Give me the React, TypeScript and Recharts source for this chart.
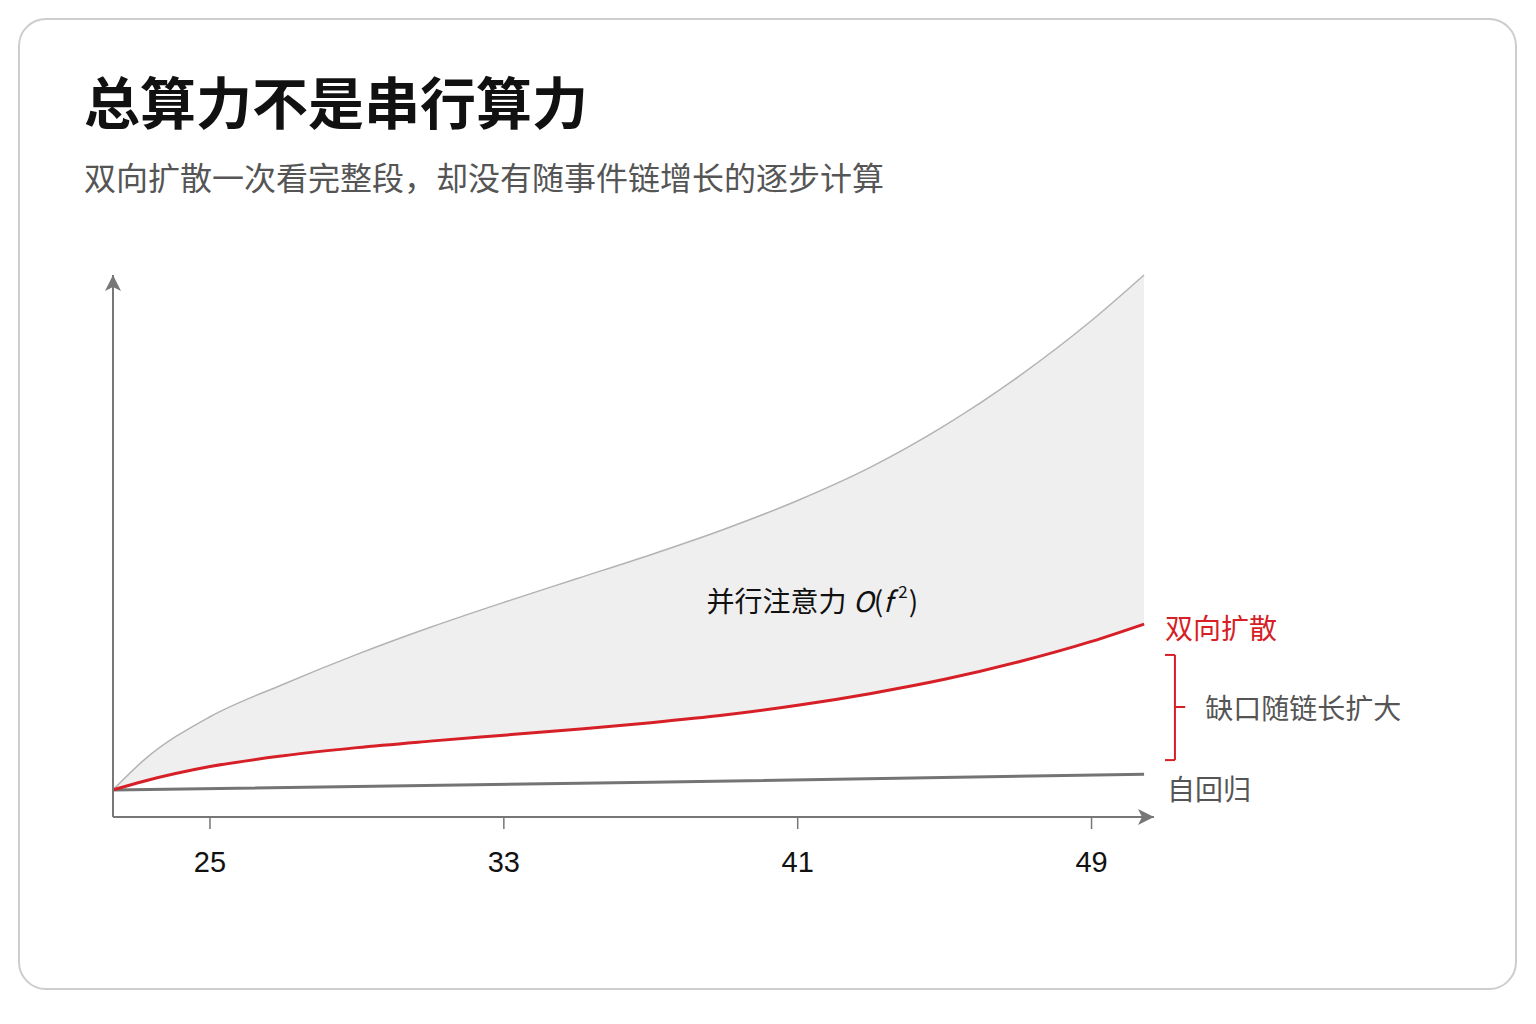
import React from 'react';
import {
  Area,
  ComposedChart,
  Line,
  ReferenceDot,
  ReferenceLine,
  XAxis,
  YAxis,
} from 'recharts';

// chain length (x) and relative compute (y, no scale shown)
const chainLength = [22.36, 23.2, 25, 27, 29, 31, 33, 35, 37, 39, 41, 43, 45, 47, 49, 50.43];
const parallelAttention = [5.0, 10.5, 18.5, 24.5, 30.0, 35.0, 39.6, 44.0, 48.4, 53.1, 58.4, 64.6, 72.2, 81.2, 91.6, 100];
const bidirectionalDiffusion = [5.0, 6.6, 9.3, 11.3, 12.8, 14.0, 15.1, 16.2, 17.4, 18.8, 20.6, 22.8, 25.4, 28.6, 32.4, 35.6];
const autoregressive = [5.0, null, null, null, null, null, null, null, 6.4, null, null, null, null, null, null, 7.9];
const xTicks = [25, 33, 41, 49];

const title = '总算力不是串行算力';
const subtitle = '双向扩散一次看完整段，却没有随事件链增长的逐步计算';
const diffusionLabel = '双向扩散';
const autoregressiveLabel = '自回归';
const gapLabel = '缺口随链长扩大';
const areaLabel = '并行注意力';

const FONT = '"Noto Sans CJK SC", "Noto Sans", sans-serif';
const RED = '#d61f26';
const AXIS = '#777777';

const data = chainLength.map((x, i) => ({
  x,
  upper: parallelAttention[i],
  diffusion: bidirectionalDiffusion[i],
  ar: autoregressive[i],
  band: [bidirectionalDiffusion[i], parallelAttention[i]],
}));

const last = data.length - 1;

const sideText = (text: string, color: string, dx: number, dy: number) => (p: any) => {
  const vb = p.viewBox || {};
  return (
    <text
      x={vb.x + dx}
      y={vb.y + dy}
      fill={color}
      fontSize={28}
      fontFamily={FONT}
      dominantBaseline="central"
    >
      {text}
    </text>
  );
};

const areaText = (p: any) => {
  const vb = p.viewBox || {};
  return (
    <text
      x={vb.x}
      y={vb.y}
      fill="#111"
      fontSize={28}
      fontFamily={FONT}
      textAnchor="middle"
      dominantBaseline="central"
    >
      {areaLabel + ' '}
      <tspan fontStyle="italic">O</tspan>(<tspan fontStyle="italic">f</tspan>
      <tspan fontSize={17} dx={6} dy={-10}>2</tspan>
      <tspan dx={1} dy={10}>)</tspan>
    </text>
  );
};

export default function App() {
  const bracket = { left: 51.0, spine: 51.27, tip: 51.55, top: 29.9, bottom: 10.5, mid: 20.3 };
  return (
    <div style={{ position: 'absolute', left: 0, top: 0, width: 1536, height: 1024, background: '#fff' }}>
      <svg width={0} height={0} style={{ position: 'absolute' }}>
        <defs>
          <marker
            id="axisArrow"
            viewBox="0 0 12 12"
            refX={12}
            refY={6}
            markerWidth={8}
            markerHeight={8}
            orient="auto-start-reverse"
          >
            <path d="M0,0 L12,6 L0,12 L3,6 Z" fill={AXIS} />
          </marker>
        </defs>
      </svg>

      <div
        style={{
          position: 'absolute',
          left: 18,
          top: 18,
          width: 1499,
          height: 972,
          border: '2px solid #cdcdcd',
          borderRadius: 28,
          boxSizing: 'border-box',
        }}
      />

      <div
        style={{
          position: 'absolute',
          left: 84,
          top: 72,
          fontFamily: FONT,
          fontSize: 56,
          fontWeight: 700,
          lineHeight: 1,
          color: '#111',
          whiteSpace: 'nowrap',
        }}
      >
        {title}
      </div>
      <div
        style={{
          position: 'absolute',
          left: 84,
          top: 160,
          fontFamily: FONT,
          fontSize: 32,
          lineHeight: 1,
          color: '#555',
          whiteSpace: 'nowrap',
        }}
      >
        {subtitle}
      </div>

      <div style={{ position: 'absolute', left: 0, top: 0 }}>
        <ComposedChart
          width={1536}
          height={1024}
          data={data}
          margin={{ top: 275, right: 382, bottom: 147, left: 111 }}
        >
          <XAxis
            type="number"
            dataKey="x"
            domain={[22.36, 50.7]}
            ticks={xTicks}
            interval={0}
            allowDataOverflow
            height={60}
            axisLine={{ stroke: AXIS, strokeWidth: 2, markerEnd: 'url(#axisArrow)' }}
            tickLine={{ stroke: AXIS, strokeWidth: 1.5 }}
            tickSize={12}
            tickMargin={22}
            tick={{ fontSize: 29, fill: '#111', fontFamily: '"Liberation Sans", Arial, sans-serif' }}
          />
          <YAxis
            type="number"
            domain={[0, 100]}
            width={2}
            tick={false}
            tickLine={false}
            axisLine={{ stroke: AXIS, strokeWidth: 2, markerStart: 'url(#axisArrow)' }}
          />
          <Area
            dataKey="band"
            type="monotone"
            fill="#efefef"
            fillOpacity={1}
            stroke="none"
            isAnimationActive={false}
          />
          <Line
            dataKey="upper"
            type="monotone"
            stroke="#b3b3b3"
            strokeWidth={1.5}
            dot={false}
            isAnimationActive={false}
          />
          <Line
            dataKey="ar"
            type="linear"
            connectNulls
            stroke="#747474"
            strokeWidth={3}
            dot={false}
            isAnimationActive={false}
          />
          <Line
            dataKey="diffusion"
            type="monotone"
            stroke={RED}
            strokeWidth={3}
            dot={false}
            isAnimationActive={false}
          />

          <ReferenceLine
            segment={[{ x: bracket.left, y: bracket.top }, { x: bracket.spine, y: bracket.top }]}
            stroke={RED}
            strokeWidth={2}
            ifOverflow="visible"
          />
          <ReferenceLine
            segment={[{ x: bracket.spine, y: bracket.top }, { x: bracket.spine, y: bracket.bottom }]}
            stroke={RED}
            strokeWidth={2}
            ifOverflow="visible"
          />
          <ReferenceLine
            segment={[{ x: bracket.left, y: bracket.bottom }, { x: bracket.spine, y: bracket.bottom }]}
            stroke={RED}
            strokeWidth={2}
            ifOverflow="visible"
          />
          <ReferenceLine
            segment={[{ x: bracket.spine, y: bracket.mid }, { x: bracket.tip, y: bracket.mid }]}
            stroke={RED}
            strokeWidth={2}
            ifOverflow="visible"
          />

          <ReferenceDot
            x={chainLength[last]}
            y={bidirectionalDiffusion[last]}
            r={0}
            fill="none"
            stroke="none"
            ifOverflow="visible"
            label={sideText(diffusionLabel, RED, 21, 3)}
          />
          <ReferenceDot
            x={chainLength[last]}
            y={autoregressive[last] as number}
            r={0}
            fill="none"
            stroke="none"
            ifOverflow="visible"
            label={sideText(autoregressiveLabel, '#555', 23, 14)}
          />
          <ReferenceDot
            x={bracket.tip}
            y={bracket.mid}
            r={0}
            fill="none"
            stroke="none"
            ifOverflow="visible"
            label={sideText(gapLabel, '#555', 20, 0)}
          />
          <ReferenceDot
            x={41.4}
            y={40}
            r={0}
            fill="none"
            stroke="none"
            ifOverflow="visible"
            label={areaText}
          />
        </ComposedChart>
      </div>
    </div>
  );
}
